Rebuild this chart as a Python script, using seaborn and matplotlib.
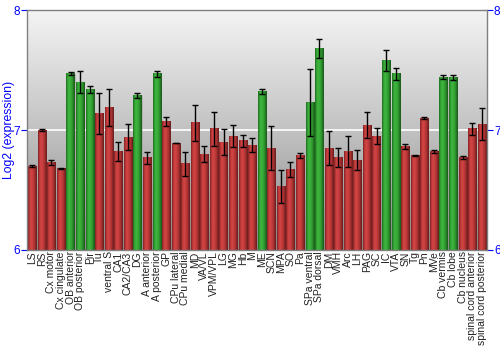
import numpy as np
import pandas as pd
import matplotlib
matplotlib.use("Agg")
import matplotlib.pyplot as plt
import matplotlib.colors as mcolors
import seaborn as sns

regions = ["LS", "RS", "Cx motor", "Cx cingulate", "OB anterior", "OB posterior", "Pir", "Tu",
           "ventral S", "CA1", "CA2/CA3", "DG", "A anterior", "A posterior", "GP", "CPu lateral",
           "CPu medial", "MD", "VA/VL", "VPM/VPL", "LG", "MG", "Hb", "M", "ME", "SCN", "MPA", "SO",
           "Pa", "SPa ventral", "SPa dorsal", "DM", "VMH", "Arc", "LH", "PAG", "SC", "IC", "VTA",
           "SN", "Tg", "Pn", "MVe", "Cb vermis", "Cb lobe", "Cb nucleus", "spinal cord anterior",
           "spinal cord posterior"]
values = [6.70, 7.00, 6.73, 6.68, 7.47, 7.40, 7.34, 7.14,
          7.19, 6.82, 6.94, 7.29, 6.77, 7.47, 7.07, 6.89,
          6.72, 7.06, 6.80, 7.01, 6.90, 6.95, 6.91, 6.875, 7.32, 6.85, 6.53, 6.67,
          6.79, 7.23, 7.68, 6.85, 6.77, 6.82, 6.75, 7.04, 6.95, 7.58, 7.47,
          6.86, 6.79, 7.10, 6.82, 7.44, 7.44, 6.77, 7.01,
          7.05]
errors = [0.005, 0.01, 0.02, 0.005, 0.01, 0.09, 0.03, 0.17,
          0.155, 0.08, 0.11, 0.02, 0.05, 0.025, 0.04, 0.002,
          0.10, 0.15, 0.065, 0.14, 0.11, 0.09, 0.05, 0.06, 0.02, 0.18, 0.14, 0.06,
          0.02, 0.28, 0.08, 0.14, 0.08, 0.13, 0.08, 0.11, 0.07, 0.085, 0.05,
          0.02, 0.005, 0.01, 0.01, 0.015, 0.02, 0.015, 0.05,
          0.13]
enriched = ["OB anterior", "OB posterior", "Pir", "DG", "A posterior", "ME", "SPa ventral",
            "SPa dorsal", "IC", "VTA", "Cb vermis", "Cb lobe"]
y_ticks = [6, 7, 8]

df = pd.DataFrame({"region": regions, "value": values, "err": errors})
df["group"] = ["up" if r in enriched else "base" for r in regions]

sns.set_style("white")
plt.rcParams["font.family"] = ["Liberation Sans", "DejaVu Sans"]

fig = plt.figure(figsize=(5, 3.5), dpi=100)
ax = fig.add_axes([0.054, 0.286, 0.920, 0.685])

palette = {"base": "#b43434", "up": "#2f9a2f"}
sns.barplot(data=df, x="region", y="value", hue="group", palette=palette, dodge=False,
            width=0.85, legend=False, ax=ax, errorbar=None, zorder=2)

xl = (-0.55, len(regions) - 0.45)

# background gradient (light at top, dark at bottom)
bg = np.linspace(0, 1, 256).reshape(-1, 1)
bg_cmap = mcolors.LinearSegmentedColormap.from_list("bg", ["#f4f4f4", "#c2c2c2", "#868686"])
ax.imshow(bg, cmap=bg_cmap, extent=(xl[0], xl[1], 6, 8), origin="upper", aspect="auto",
          zorder=0, interpolation="bicubic")
ax.axhline(7, color="white", lw=1.2, zorder=1)

# bar shading
def shade_cmap(base):
    c = np.array(mcolors.to_rgb(base))
    dark = c * 0.6
    light = np.clip(c * 1.12 + 0.05, 0, 1)
    return mcolors.LinearSegmentedColormap.from_list(
        "s", [(0, dark), (0.12, c), (0.35, light), (0.7, c), (1.0, dark * 0.9)])

grad = np.linspace(0, 1, 64).reshape(1, -1)
bars = sorted([p for p in ax.patches if p.get_height() > 0], key=lambda p: p.get_x())
for i, p in enumerate(bars):
    grp = df["group"].iloc[i]
    x0, w, h = p.get_x(), p.get_width(), p.get_height()
    p.set_facecolor("none")
    p.set_edgecolor((0.6, 0.6, 0.6, 0.6))
    p.set_linewidth(0.5)
    ax.imshow(grad, cmap=shade_cmap(palette[grp]), extent=(x0, x0 + w, 6, h),
              aspect="auto", zorder=2, interpolation="bicubic")

ax.errorbar(np.arange(len(regions)), df["value"], yerr=df["err"], fmt="none",
            ecolor="black", elinewidth=1, capsize=2, capthick=1, zorder=3)

ax.set_xlim(*xl)
ax.set_ylim(6, 8)
ax.set_yticks(y_ticks)
ax.set_yticklabels([str(t) for t in y_ticks])
ax.tick_params(axis="y", colors="blue", labelsize=8.5, length=4, pad=1,
               left=True, right=True, labelleft=True, labelright=True)
ax.tick_params(axis="x", labelsize=7.5, rotation=90, length=0, pad=1, colors="black")
for lab in ax.get_xticklabels():
    lab.set_color("#222222")
for t in ax.yaxis.get_ticklines():
    t.set_color("#808080")
ax.set_xlabel("")
ax.set_ylabel("Log2 (expression)", color="blue", fontsize=8.8, va="center")
ax.yaxis.set_label_coords(-0.040, 0.5)
for s in ax.spines.values():
    s.set_color("#808080")
    s.set_linewidth(1)

fig.savefig("out.png", dpi=100)
